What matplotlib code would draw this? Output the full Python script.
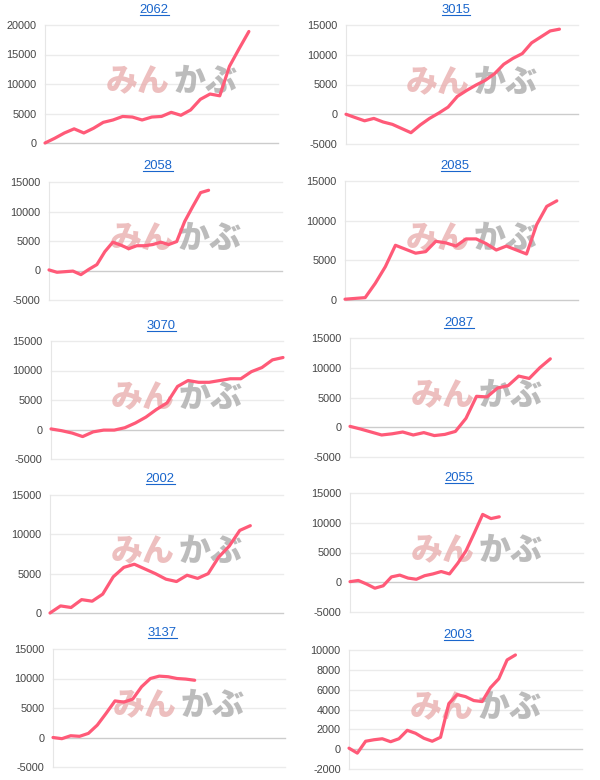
import numpy as np
import matplotlib
matplotlib.use('Agg')
import matplotlib.pyplot as plt
from matplotlib.lines import Line2D

plt.rcParams['font.family'] = ['Liberation Sans', 'DejaVu Sans']

codes = ['2062', '3015', '2058', '2085', '3070', '2087', '2002', '2055', '3137', '2003']

s2062 = [0, 800, 1700, 2400, 1700, 2500, 3500, 3900, 4500, 4400, 3900, 4400, 4500, 5200, 4700,
         5600, 7400, 8300, 8000, 13000, 16000, 18900]
s3015 = [0, -560, -1100, -700, -1300, -1700, -2400, -3100, -1800, -700, 200, 1200, 3000, 4000,
         4900, 5700, 6800, 8400, 9400, 10200, 12000, 13000, 14000, 14300]
s2058 = [100, -300, -200, -100, -700, 200, 1000, 3200, 4800, 4300, 3700, 4200, 4200, 4400, 4800,
         4400, 4900, 8300, 10800, 13200, 13600]
s2085 = [100, 200, 300, 2100, 4200, 6900, 6400, 5900, 6100, 7400, 7200, 6800, 7700, 7700, 7100,
         6300, 6800, 6300, 5800, 9500, 11800, 12500]
s3070 = [100, -200, -600, -1200, -400, -100, -100, 300, 1100, 2100, 3400, 4500, 7300, 8300, 8000,
         8000, 8300, 8600, 8600, 9800, 10500, 11800, 12200]
s2087 = [150, -300, -800, -1300, -1100, -800, -1300, -900, -1400, -1200, -700, 1500, 5200, 5100,
         6600, 7000, 8600, 8200, 10000, 11500]
s2002 = [0, 900, 700, 1700, 1500, 2400, 4600, 5800, 6200, 5600, 5000, 4300, 4000, 4800, 4400,
         5000, 7100, 8500, 10500, 11100]
s2055 = [100, 300, -300, -1000, -600, 900, 1200, 700, 500, 1100, 1400, 1800, 1400, 3200, 5300,
         8300, 11400, 10700, 11000]
s3137 = [0, -200, 300, 200, 700, 2100, 4100, 6200, 6000, 6500, 8600, 10000, 10400, 10300, 10000,
         9900, 9700]
s2003 = [100, -400, 800, 950, 1050, 750, 1050, 1900, 1600, 1100, 800, 1200, 4600, 5500, 5300,
         4900, 4800, 6200, 7100, 9000, 9500]

series = [s2062, s3015, s2058, s2085, s3070, s2087, s2002, s2055, s3137, s2003]

# y ranges (min, max, step)
yranges = [(0, 20000, 5000), (-5000, 15000, 5000), (-5000, 15000, 5000), (0, 15000, 5000),
           (-5000, 15000, 5000), (-5000, 15000, 5000), (0, 15000, 5000), (-5000, 15000, 5000),
           (-5000, 15000, 5000), (-2000, 10000, 2000)]

# layout in pixels: left, top, right, bottom of plot area; x extent in points
boxes = [(45, 25, 278, 143), (346, 25, 578, 144),
         (49, 182, 282, 300), (345, 181, 578, 300),
         (51, 341, 283, 459), (350, 338, 583, 457),
         (50, 495, 283, 613), (350, 493, 583, 612),
         (53, 649, 285, 767), (349, 650, 582, 769)]
xmax = [24, 25, 29.2, 23.1, 22, 22.1, 22.1, 28.1, 26.2, 28]
title_pos = [(154, 10), (456, 10), (158, 166), (455, 166), (161, 326),
             (459, 323), (160, 479), (459, 478), (162, 633), (458, 635)]

W, H = 600, 780
fig = plt.figure(figsize=(6, 7.8), dpi=100)
fig.patch.set_facecolor('white')

line_color = '#ff5a78'

for i in range(10):
    l, t, r, b = boxes[i]
    ax = fig.add_axes([l / W, 1 - b / H, (r - l) / W, (b - t) / H])
    lo, hi, step = yranges[i]
    ticks = np.arange(lo, hi + step, step)
    ax.set_ylim(lo, hi)
    ax.set_xlim(0, xmax[i])
    ax.set_yticks(ticks)
    ax.set_yticklabels([str(v) for v in ticks])
    ax.set_xticks([])
    for v in ticks:
        c = '#cccccc' if v == 0 else '#ebebeb'
        ax.axhline(v, color=c, lw=1.0, zorder=1, clip_on=False)
    for sp in ['top', 'right', 'bottom']:
        ax.spines[sp].set_visible(False)
    ax.spines['left'].set_color('#e6e6e6')
    ax.spines['left'].set_linewidth(0.8)
    ax.tick_params(axis='y', length=0, pad=6, labelsize=7.8, labelcolor='#444444')

    # watermark
    ax.text(0.535, 0.52, 'みん', transform=ax.transAxes, ha='right', va='center',
            fontsize=23, fontweight='black', color='#e8aaaa', alpha=0.75,
            family=['Noto Sans CJK JP'], zorder=2)
    ax.text(0.55, 0.52, 'かぶ', transform=ax.transAxes, ha='left', va='center',
            fontsize=23, fontweight='black', color='#acacac', alpha=0.8,
            family=['Noto Sans CJK JP'], zorder=2)

    y = series[i]
    ax.plot(np.arange(len(y)), y, color=line_color, lw=2.3, zorder=3,
            solid_joinstyle='round', solid_capstyle='round', clip_on=False)

    tx, ty = title_pos[i]
    fig.text(tx / W, 1 - ty / H, codes[i], ha='center', va='center', fontsize=9.4,
             color='#1a66cc')

# underline the titles
fig.canvas.draw()
renderer = fig.canvas.get_renderer()
for txt in fig.texts:
    bb = txt.get_window_extent(renderer)
    yline = bb.y0 + 1
    fig.add_artist(Line2D([bb.x0 / W, bb.x1 / W], [yline / H, yline / H],
                          transform=fig.transFigure, color='#1a66cc', lw=0.8))

plt.savefig('out.png', dpi=100, facecolor='white')
